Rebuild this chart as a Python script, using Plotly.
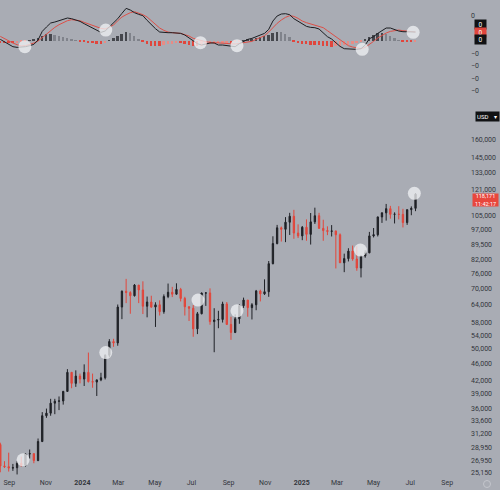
import pandas as pd
import numpy as np
import plotly.graph_objects as go

# ---------------- data (weekly candles, prices in thousands USD) ----------------
first_open_k = 29.4
close_k = [26.1, 26.0, 25.8, 25.85, 26.5, 26.2, 27.9, 27.95, 26.9, 29.9,
           34.5, 35.0, 37.0, 37.4, 37.45, 39.5, 43.9, 41.3, 43.0, 42.3,
           43.9, 41.7, 41.6, 42.1, 42.6, 48.3, 52.1, 51.7, 63.1, 68.9,
           68.4, 67.2, 71.3, 69.4, 63.4, 64.9, 63.1, 63.9, 61.5, 66.9,
           68.5, 67.8, 69.6, 66.2, 63.2, 62.7, 55.9, 60.8, 68.2, 68.25,
           58.2, 58.7, 58.9, 64.2, 57.3, 54.8, 59.1, 63.6, 65.6, 62.9,
           63.9, 69.0, 67.9, 68.7, 80.3, 89.8, 98.0, 97.2, 101.1, 104.5,
           95.2, 93.7, 98.3, 94.5, 101.3, 104.8, 97.7, 96.5, 96.1, 96.3,
           94.3, 80.7, 82.6, 86.1, 82.4, 78.4, 83.8, 85.3, 93.7, 94.3,
           104.1, 106.5, 109.0, 105.6, 105.7, 105.6, 100.9, 108.4, 109.2, 118.171]
high_k = [29.7, 26.8, 28.1, 26.4, 26.8, 27.5, 28.0, 28.6, 28.0, 30.4,
          35.2, 35.9, 37.9, 37.9, 38.4, 39.6, 44.7, 44.0, 44.4, 43.6,
          45.9, 49.0, 43.6, 42.2, 43.8, 48.5, 52.8, 52.9, 64.0, 69.2,
          73.8, 68.9, 71.7, 71.3, 72.8, 66.9, 67.2, 64.8, 65.5, 67.7,
          71.9, 70.6, 72.0, 70.2, 66.8, 63.4, 63.8, 61.4, 68.4, 68.5,
          70.0, 62.7, 61.8, 65.0, 64.9, 59.8, 60.6, 64.1, 66.5, 65.6,
          64.5, 69.4, 69.5, 73.6, 81.5, 93.5, 99.6, 98.7, 104.0, 106.5,
          108.3, 99.9, 99.0, 102.7, 106.4, 109.6, 106.5, 102.5, 98.8, 99.5,
          96.5, 95.0, 84.9, 87.5, 88.8, 88.5, 84.0, 86.5, 95.8, 97.9,
          104.3, 106.7, 111.9, 110.7, 106.8, 110.5, 108.9, 108.5, 110.4, 118.9]
low_k = [25.2, 25.8, 25.3, 25.4, 24.9, 26.0, 26.0, 27.2, 26.5, 26.8,
         29.8, 34.1, 34.5, 34.8, 35.6, 36.7, 39.4, 40.2, 40.5, 41.3,
         40.7, 41.5, 40.3, 38.5, 41.8, 42.2, 47.7, 50.6, 50.9, 59.0,
         64.5, 60.8, 66.9, 64.5, 60.7, 59.6, 62.8, 56.5, 60.2, 60.8,
         66.3, 66.7, 67.6, 65.1, 60.2, 58.4, 53.5, 54.3, 60.6, 63.5,
         57.2, 49.1, 56.1, 57.9, 57.2, 52.6, 54.6, 57.5, 62.8, 59.8,
         58.9, 62.0, 65.1, 67.5, 66.8, 80.0, 89.4, 90.8, 90.5, 94.2,
         92.2, 92.6, 91.5, 91.2, 89.3, 100.1, 97.5, 91.2, 94.1, 93.4,
         78.2, 80.6, 76.6, 81.3, 81.6, 77.2, 74.4, 83.0, 85.1, 92.9,
         93.4, 100.7, 102.0, 103.1, 100.4, 102.7, 98.2, 99.6, 105.1, 107.5]

# MACD pane values (in thousandths)
macd_m = [4, -3, -11, -18, -20, -20, -18, -15, -11, 2,
          28, 41, 53, 56, 60, 63, 68, 66, 63, 58,
          51, 44, 37, 30, 25, 29, 42, 52, 66, 82,
          97, 92, 84, 79, 75, 61, 48, 36, 26, 24,
          24, 24, 23, 22, 17, 9, -1, -9, -13, -9,
          -7, -7, -13, -13, -14, -16, -18, -9, -2, 4,
          7, 12, 17, 22, 34, 59, 74, 80, 81, 78,
          66, 58, 49, 43, 40, 39, 35, 22, 12, 5,
          -5, -17, -24, -25, -26, -26, -24, -13, 6, 12,
          22, 31, 38, 38, 33, 29, 27, 26, 26, 26]
signal_m = [13, 6, -1, -7, -12, -16, -15, -12, -7, -1,
            9, 21, 31, 40, 48, 55, 60, 63, 62, 60,
            55, 50, 45, 40, 37, 35, 41, 47, 60, 71,
            78, 84, 87, 83, 78, 71, 60, 49, 38, 31,
            26, 24, 23, 22, 18, 14, 7, 3, -1, -3,
            -5, -6, -8, -9, -10, -11, -10, -8, -6, -5,
            -2, 4, 10, 15, 26, 40, 52, 62, 70, 75,
            73, 67, 59, 54, 50, 47, 43, 39, 30, 21,
            12, 2, -8, -15, -19, -22, -24, -20, -12, -2,
            8, 16, 23, 28, 31, 32, 30, 28, 27, 26]
hist_m = [-6, -7, -8, -8, -7, -4, -2, 1, 3, 8,
          15, 19, 21, 18, 14, 10, 8, 4, 1, -2,
          -4, -6, -8, -10, -11, -6, 1, 8, 14, 20,
          25, 22, 15, 5, -3, -10, -15, -17, -17, -14,
          -11, -10, -8, -8, -10, -12, -15, -16, -15, -12,
          -10, -9, -8, -7, -6, -6, -5, -2, 1, 3,
          4, 7, 10, 13, 18, 24, 27, 25, 20, 10,
          -2, -6, -9, -11, -12, -13, -14, -15, -17, -18,
          -17, -16, -14, -12, -9, -7, -2, 5, 12, 18,
          22, 24, 21, 15, 8, 2, -2, -4, -4, -3]

# highlighted points
price_circle_dates = ["2023-09-24", "2024-02-09", "2024-07-12", "2024-09-15", "2025-04-09", "2025-07-08"]
price_circle_vals = [27000, 49000, 65600, 61800, 86600, 118700]
macd_circle_dates = ["2023-09-27", "2024-02-09", "2024-07-16", "2024-09-15", "2025-04-12", "2025-07-06"]
macd_circle_vals = [-18, 32, -6, -15, -26, 25]

price_ticks = [25150, 26950, 28950, 31200, 33600, 36000, 39000, 42000, 46000, 50000,
               54000, 58000, 64000, 70000, 76000, 82000, 89500, 97000, 105000, 121000,
               133000, 145000, 160000]
date_ticks = ["2023-09-01", "2023-11-01", "2024-01-01", "2024-03-01", "2024-05-01", "2024-07-01",
              "2024-09-01", "2024-11-01", "2025-01-01", "2025-03-01", "2025-05-01", "2025-07-01",
              "2025-09-01"]
date_labels = ["Sep", "Nov", "<b>2024</b>", "Mar", "May", "Jul", "Sep", "Nov", "<b>2025</b>",
               "Mar", "May", "Jul", "Sep"]

# ---------------- build ----------------
dates = pd.date_range("2023-08-17", periods=len(close_k), freq="7D")
close = [c * 1000 for c in close_k]
high = [h * 1000 for h in high_k]
low = [l * 1000 for l in low_k]
opn = [first_open_k * 1000] + close[:-1]

macd = [v / 1000 for v in macd_m]
signal = [v / 1000 for v in signal_m]
hist = [v / 1000 for v in hist_m]
hist_colors = []
for i, h in enumerate(hist):
    prev = hist[i - 1] if i > 0 else h
    if h >= 0:
        hist_colors.append("#45474d" if h >= prev else "#80838b")
    else:
        hist_colors.append("#e0463d" if h <= prev else "#e88c86")

BG = "#a9acb4"
TXT = "#33363c"
UP = "#1f2126"
DN = "#e2463b"
FONT = "Roboto"

fig = go.Figure()
fig.add_trace(go.Bar(x=dates, y=hist, marker=dict(color=hist_colors, line=dict(width=0)),
                     width=3.2 * 86400000, xaxis="x2", yaxis="y2", showlegend=False))
fig.add_trace(go.Scatter(x=dates, y=signal, mode="lines", line=dict(color="#dd4f47", width=1),
                         xaxis="x2", yaxis="y2", showlegend=False))
fig.add_trace(go.Scatter(x=dates, y=macd, mode="lines", line=dict(color="#1c1d21", width=1),
                         xaxis="x2", yaxis="y2", showlegend=False))
fig.add_trace(go.Scatter(x=pd.to_datetime(macd_circle_dates), y=[v / 1000 for v in macd_circle_vals],
                         mode="markers", marker=dict(size=13, color="rgba(242,243,246,0.75)", line=dict(width=0)),
                         xaxis="x2", yaxis="y2", showlegend=False))

fig.add_trace(go.Candlestick(x=dates, open=opn, high=high, low=low, close=close,
                             increasing=dict(line=dict(color=UP, width=1), fillcolor=UP),
                             decreasing=dict(line=dict(color=DN, width=1), fillcolor=DN),
                             whiskerwidth=0, xaxis="x", yaxis="y", showlegend=False))
fig.add_trace(go.Scatter(x=pd.to_datetime(price_circle_dates), y=price_circle_vals, mode="markers",
                         marker=dict(size=13, color="rgba(242,243,246,0.75)", line=dict(width=0)),
                         xaxis="x", yaxis="y", showlegend=False))

xrange = ["2023-08-16 12:00", "2025-10-08 22:00"]
split = (477 - 100) / 477
tickfont = dict(family=FONT, size=7, color=TXT)

mstep = 0.0377
fig.update_layout(
    width=500, height=490,
    margin=dict(l=0, r=30, t=0, b=13),
    paper_bgcolor=BG, plot_bgcolor=BG,
    showlegend=False,
    bargap=0,
    boxgap=0.55,
    xaxis=dict(domain=[0, 1], range=xrange, type="date", anchor="y",
               tickvals=date_ticks, ticktext=date_labels, tickfont=tickfont,
               showgrid=False, zeroline=False, showline=False, ticks="",
               rangeslider=dict(visible=False), fixedrange=True),
    xaxis2=dict(domain=[0, 1], range=xrange, type="date", anchor="y2", matches="x",
                visible=False, showgrid=False),
    yaxis=dict(domain=[0, split], type="log", side="right", anchor="x",
               range=[4.390011, 5.299614], tickvals=price_ticks,
               ticktext=[f"{v:,}" for v in price_ticks], tickfont=tickfont,
               showgrid=False, zeroline=False, showline=False, ticks=""),
    yaxis2=dict(domain=[split, 1], side="right", anchor="x2",
                range=[-0.1779, 0.1221],
                tickvals=[3 * mstep, 2 * mstep, -1 * mstep, -2 * mstep, -3 * mstep, -4 * mstep],
                ticktext=["0", "0", "\u22120", "\u22120", "\u22120", "\u22120"], tickfont=tickfont,
                showgrid=False, zeroline=False, showline=False, ticks=""),
)

W = 470.0
H = 477.0
def px(x):
    return x / W
def py(y):
    return (H - y) / H

ann = []
# MACD last-value boxes
for yy, col in [(24.7, "#111214"), (32.2, "#e0463d"), (39.8, "#111214")]:
    ann.append(dict(x=px(474), y=py(yy), xref="paper", yref="paper", xanchor="left", yanchor="middle",
                    text="0", showarrow=False, bgcolor=col, borderpad=1,
                    font=dict(family=FONT, size=6.5, color="white"), width=9, height=7))
# USD box
ann.append(dict(x=px(475), y=py(116.7), xref="paper", yref="paper", xanchor="left", yanchor="middle",
                text="USD&nbsp;&nbsp;&nbsp;&nbsp;\u25BE", showarrow=False, bgcolor="#111214", borderpad=1,
                font=dict(family=FONT, size=6, color="white"), width=21, height=7, align="left"))
# last price box
ann.append(dict(x=px(472), y=py(199.8), xref="paper", yref="paper", xanchor="left", yanchor="middle",
                text="118,171<br>11:42:17", showarrow=False, bgcolor="#e8473c", borderpad=0,
                font=dict(family=FONT, size=5.5, color="white"), width=25, height=12, align="center"))
fig.update_layout(annotations=ann)
fig.add_shape(type="circle", xref="paper", yref="paper",
              x0=px(483.5), x1=px(490.5), y0=py(487.5), y1=py(480.5),
              line=dict(color="#c4c6cc", width=1))

fig.write_html("out.html")
